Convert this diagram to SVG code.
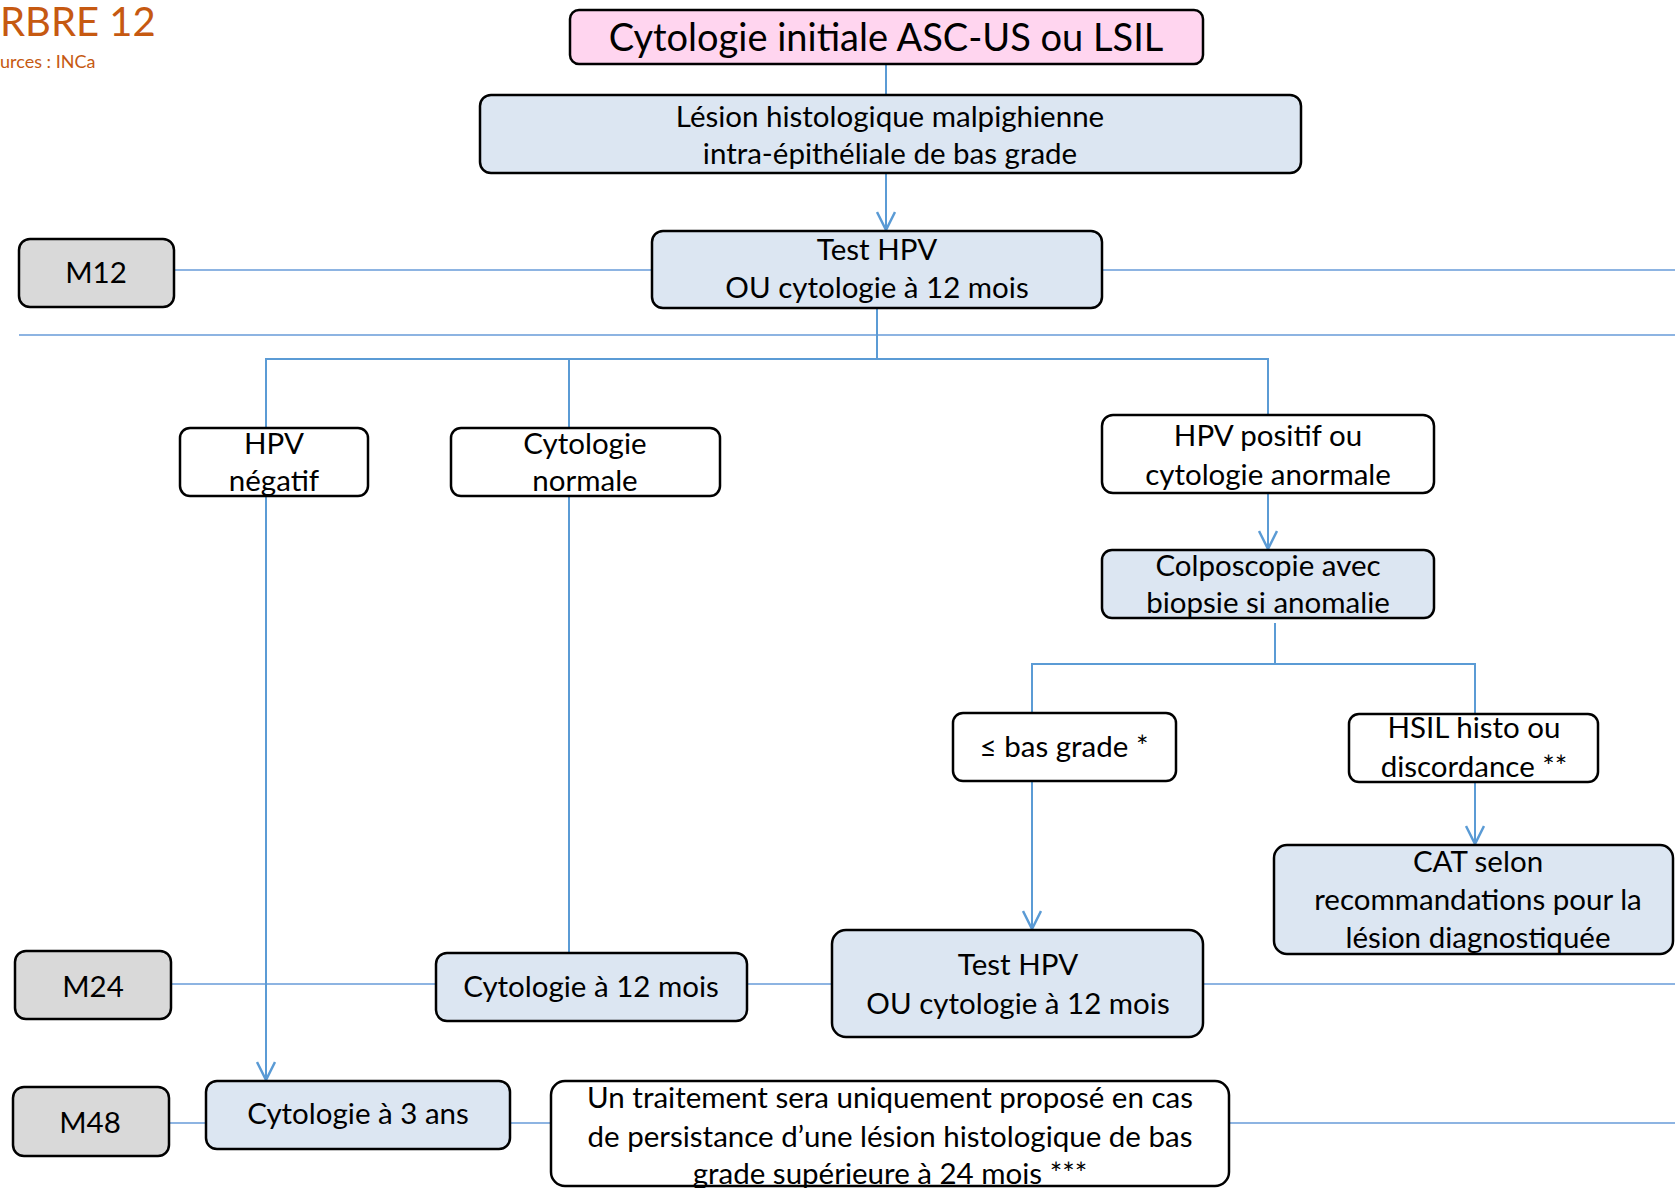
<svg xmlns="http://www.w3.org/2000/svg" width="1675" height="1188" viewBox="0 0 1675 1188">
<defs>
<style>
.box{stroke:#000;stroke-width:2.5}
.blue{fill:#DCE6F2}
.white{fill:#FFFFFF}
.gray{fill:#D9D9D9}
.pink{fill:#FFD5EF}
.t{font-family:Lato,"Liberation Sans",sans-serif;font-size:29.5px;fill:#000;text-anchor:middle}
.big{font-size:38px}
.c{stroke:#5B9BD5;stroke-width:2;fill:none}
.tl{stroke:#8DB4E2;stroke-width:2;fill:none}
.title{font-family:Lato,"Liberation Sans",sans-serif;fill:#C65911}
.h1{font-size:40px}
.h2{font-size:18px}
</style>
<marker id="arr" viewBox="0 0 24 20" refX="22" refY="10" markerWidth="24" markerHeight="20" markerUnits="userSpaceOnUse" orient="auto">
<path d="M4,1 L22,10 L4,19" fill="none" stroke="#5B9BD5" stroke-width="2.5"/>
</marker>
</defs>
<rect width="1675" height="1188" fill="#FFFFFF"/>
<g id="title">
<text class="title h1" x="0" y="36">RBRE 12</text>
<text class="title h2" x="0" y="68">urces : INCa</text>
</g>
<g id="timelines">
<line class="tl" x1="174" y1="270" x2="1675" y2="270"/>
<line class="tl" x1="19" y1="335" x2="1675" y2="335"/>
<line class="tl" x1="171" y1="984" x2="1675" y2="984"/>
<line class="tl" x1="169" y1="1123" x2="1675" y2="1123" stroke-width="1.5"/>
</g>
<g id="connectors">
<line class="c" x1="886" y1="64" x2="886" y2="95"/>
<line class="c" x1="886" y1="173" x2="886" y2="230" marker-end="url(#arr)"/>
<polyline class="c" points="877,308 877,359"/>
<polyline class="c" points="266,428 266,359 1268,359 1268,415"/>
<line class="c" x1="569" y1="359" x2="569" y2="428"/>
<line class="c" x1="266" y1="496" x2="266" y2="1080" marker-end="url(#arr)"/>
<line class="c" x1="569" y1="496" x2="569" y2="953"/>
<line class="c" x1="1268" y1="493" x2="1268" y2="549" marker-end="url(#arr)"/>
<polyline class="c" points="1275,623 1275,664"/>
<polyline class="c" points="1032,713 1032,664 1475,664 1475,714"/>
<line class="c" x1="1032" y1="781" x2="1032" y2="929" marker-end="url(#arr)"/>
<line class="c" x1="1475" y1="782" x2="1475" y2="844" marker-end="url(#arr)"/>
</g>
<g id="n-initiale">
<rect class="box pink" x="570" y="10" width="633" height="54" rx="9"/>
<text class="t big" x="886" y="51">Cytologie initiale ASC-US ou LSIL</text>
</g>
<g id="n-lesion">
<rect class="box blue" x="480" y="95" width="821" height="78" rx="11"/>
<text class="t" x="890" y="127">Lésion histologique malpighienne</text>
<text class="t" x="890" y="164">intra-épithéliale de bas grade</text>
</g>
<g id="n-m12">
<rect class="box gray" x="19" y="239" width="155" height="68" rx="11"/>
<text class="t" x="96" y="283">M12</text>
</g>
<g id="n-test1">
<rect class="box blue" x="652" y="231" width="450" height="77" rx="11"/>
<text class="t" x="877" y="260">Test HPV</text>
<text class="t" x="877" y="298">OU cytologie à 12 mois</text>
</g>
<g id="n-hpvneg">
<rect class="box white" x="180" y="428" width="188" height="68" rx="10"/>
<text class="t" x="274" y="454">HPV</text>
<text class="t" x="274" y="491">négatif</text>
</g>
<g id="n-cytonorm">
<rect class="box white" x="451" y="428" width="269" height="68" rx="10"/>
<text class="t" x="585" y="454">Cytologie</text>
<text class="t" x="585" y="491">normale</text>
</g>
<g id="n-hpvpos">
<rect class="box white" x="1102" y="415" width="332" height="78" rx="11"/>
<text class="t" x="1268" y="446">HPV positif ou</text>
<text class="t" x="1268" y="485">cytologie anormale</text>
</g>
<g id="n-colpo">
<rect class="box blue" x="1102" y="550" width="332" height="68" rx="10"/>
<text class="t" x="1268" y="576">Colposcopie avec</text>
<text class="t" x="1268" y="613">biopsie si anomalie</text>
</g>
<g id="n-basgrade">
<rect class="box white" x="953" y="713" width="223" height="68" rx="10"/>
<text class="t" x="1064" y="757">≤ bas grade *</text>
</g>
<g id="n-hsil">
<rect class="box white" x="1349" y="714" width="249" height="68" rx="10"/>
<text class="t" x="1474" y="738">HSIL histo ou</text>
<text class="t" x="1474" y="777">discordance **</text>
</g>
<g id="n-cat">
<rect class="box blue" x="1274" y="845" width="399" height="109" rx="13"/>
<text class="t" x="1478" y="872">CAT selon</text>
<text class="t" x="1478" y="910">recommandations pour la</text>
<text class="t" x="1478" y="948">lésion diagnostiquée</text>
</g>
<g id="n-m24">
<rect class="box gray" x="15" y="951" width="156" height="68" rx="11"/>
<text class="t" x="93" y="997">M24</text>
</g>
<g id="n-cyto12">
<rect class="box blue" x="436" y="953" width="311" height="68" rx="11"/>
<text class="t" x="591" y="997">Cytologie à 12 mois</text>
</g>
<g id="n-test2">
<rect class="box blue" x="832" y="930" width="371" height="107" rx="14"/>
<text class="t" x="1018" y="975">Test HPV</text>
<text class="t" x="1018" y="1014">OU cytologie à 12 mois</text>
</g>
<g id="n-m48">
<rect class="box gray" x="13" y="1087" width="156" height="69" rx="11"/>
<text class="t" x="90" y="1133">M48</text>
</g>
<g id="n-cyto3">
<rect class="box blue" x="206" y="1081" width="304" height="68" rx="11"/>
<text class="t" x="358" y="1124">Cytologie à 3 ans</text>
</g>
<g id="n-traitement">
<rect class="box white" x="551" y="1081" width="678" height="105" rx="14"/>
<text class="t" x="890" y="1108">Un traitement sera uniquement proposé en cas</text>
<text class="t" x="890" y="1147">de persistance d’une lésion histologique de bas</text>
<text class="t" x="890" y="1184">grade supérieure à 24 mois ***</text>
</g>
</svg>
